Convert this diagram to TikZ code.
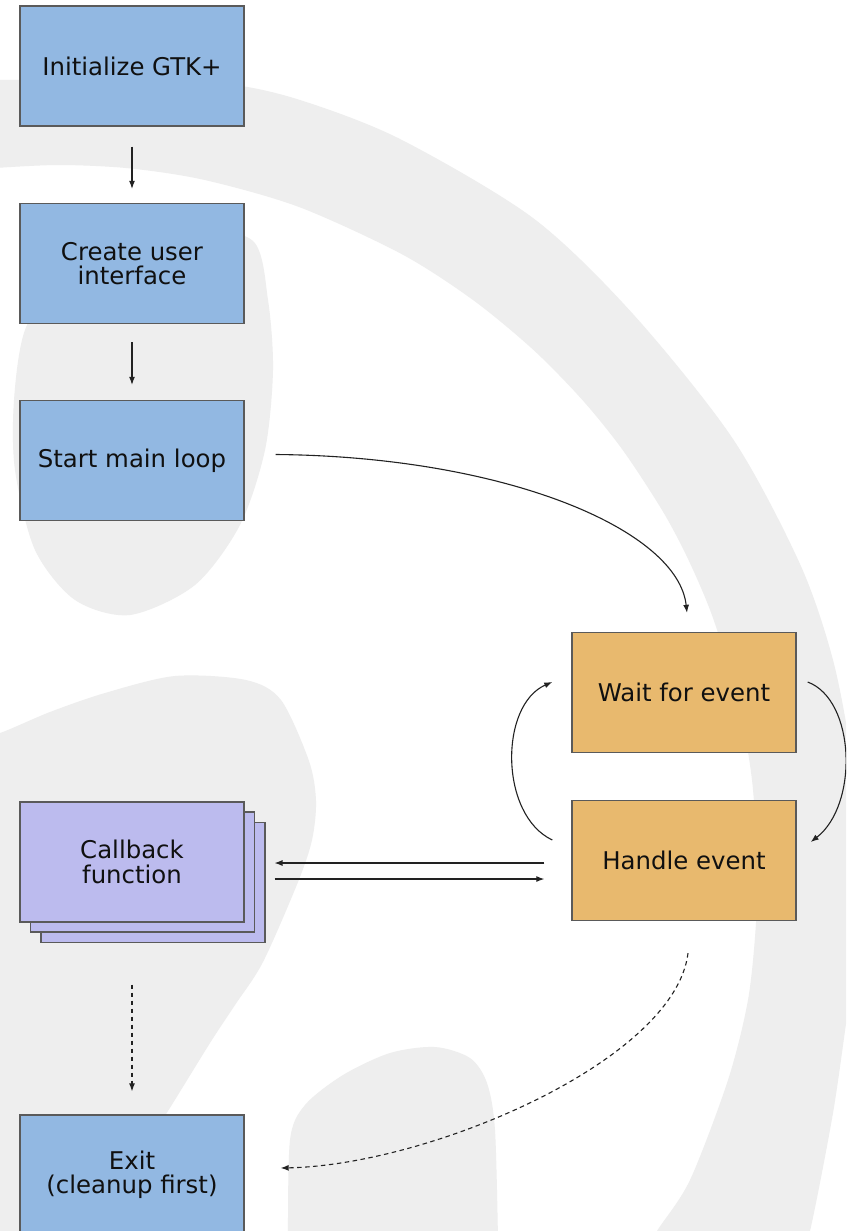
\documentclass[tikz,border=0pt]{standalone}
\usepackage{fontspec}
\setmainfont{DejaVu Sans}
\usetikzlibrary{arrows.meta,calc}

\definecolor{bggrey}{HTML}{EEEEEE}
\definecolor{bluefill}{HTML}{92B8E2}
\definecolor{orangefill}{HTML}{E8B96E}
\definecolor{purplefill}{HTML}{BCBBEE}
\definecolor{boxline}{HTML}{5A5A5A}
\definecolor{txt}{HTML}{101010}
\definecolor{arrowc}{HTML}{222222}

\newcommand\boxfont{\fontsize{24.4pt}{24.5pt}\selectfont}

\tikzset{
  box/.style={draw=boxline, line width=1.4pt, minimum width=224pt,
    minimum height=120pt, inner sep=0pt, align=center, text=txt, font=\boxfont},
  bluebox/.style={box, fill=bluefill},
  orangebox/.style={box, fill=orangefill},
  purplebox/.style={box, fill=purplefill},
  arr/.style={draw=arrowc, line width=1.1pt, -{Latex[length=8pt,width=6pt]}},
  dasharr/.style={arr, dash pattern=on 4.5pt off 3.5pt},
  bg/.style={fill=bggrey},
}

\begin{document}
\begin{tikzpicture}[x=1pt,y=-1pt]
\useasboundingbox (0,0) rectangle (846,1231);
\clip (0,0) rectangle (846,1231);
\fill[white] (0,0) rectangle (846,1231);

% faint watermark shapes in the background
\fill[bg] plot[smooth] coordinates {(-20,80) (0,80) (120,79) (227,84) (300,100)
    (400,139) (533,218) (633,314) (733,439) (800,564) (833,660) (852,760)
    (862,860) (858,950) (848,1010) (833,1113) (810,1231) (798,1262)}
  -- plot[smooth] coordinates {(640,1262) (657,1231) (690,1180) (728,1080)
    (748,1000) (756,923) (757,861) (752,780) (738,700) (713,618) (688.5,560)
    (662.6,511) (622.7,450) (582.4,400) (533.5,350) (473,300) (401.5,254)
    (299,207) (204.7,180) (130,168.4) (61,165) (0,167.7) (-20,170)}
  -- cycle;
\fill[bg] plot[smooth cycle] coordinates {(253,241) (268,300) (273,370) (265,450)
    (240,525) (195,585) (130,615) (75,600) (35,550) (15,470) (14,400) (25,330)
    (60,275) (120,240) (190,228)};
\fill[bg] plot[smooth] coordinates {(-20,735) (0,733) (50,712) (105,693) (175,676)
    (246,680) (281,700) (309,761) (316,801) (312,840) (298,882) (263,962)
    (235,1005) (210,1043) (168,1111) (130,1170) (90,1240)}
  -- (-20,1240) -- cycle;
\fill[bg] plot[smooth] coordinates {(288,1240) (290,1140) (305,1105) (343,1075)
    (390,1053) (435,1047) (470,1058) (487,1083) (495,1130) (498,1240)} -- cycle;

% main flow
\node[bluebox] (init) at (132,66) {Initialize GTK+};
\node[bluebox] (ui) at (132,263.5) {Create user\\interface};
\node[bluebox] (loop) at (132,460.5) {Start main loop};

% event loop
\node[orangebox] (wait) at (684,692.5) {Wait for event};
\node[orangebox] (handle) at (684,860.5) {Handle event};

% stacked callback boxes
\node[purplebox] (cb3) at (152.8,882.3) {};
\node[purplebox] (cb2) at (142.4,872) {};
\node[purplebox] (cb) at (132,862) {Callback\\function};

\node[bluebox] (exit) at (132,1175) {Exit\\(cleanup first)};

% connectors
\draw[arr, shorten <=20pt, shorten >=14pt] (init) -- (ui);
\draw[arr, shorten <=18pt, shorten >=15pt] (ui) -- (loop);

\draw[arr] ([xshift=31pt,yshift=6pt]loop.east)
  .. controls +(230,2) and +(-9,-83) .. ([xshift=3pt,yshift=19pt]wait.north);

\draw[arr] ([xshift=11pt,yshift=10.5pt]wait.east)
  .. controls +(48,18) and +(48,-37) .. ([xshift=14pt,yshift=18.5pt]handle.east);
\draw[arr] ([xshift=-19pt,yshift=20.5pt]handle.west)
  .. controls +(-53,-25) and +(-53,23) .. ([xshift=-19pt,yshift=10.5pt]wait.west);

\coordinate (h1) at ([xshift=-27pt,yshift=-2.5pt]handle.west);
\coordinate (h2) at ([xshift=-27pt,yshift=-18.5pt]handle.west);
\coordinate (cbtip) at ([xshift=9pt]cb3.east);
\draw[arr] (h1) -- (h1 -| cbtip);
\draw[arr] (h2 -| cbtip) -- (h2);

\draw[dasharr, shorten <=62pt, shorten >=23pt] (cb) -- (exit);
\draw[dasharr] ([xshift=4pt,yshift=-32pt]handle.south)
  .. controls +(-13,107) and +(150,-3) .. ([xshift=36pt,yshift=7pt]exit.east);
\end{tikzpicture}
\end{document}
